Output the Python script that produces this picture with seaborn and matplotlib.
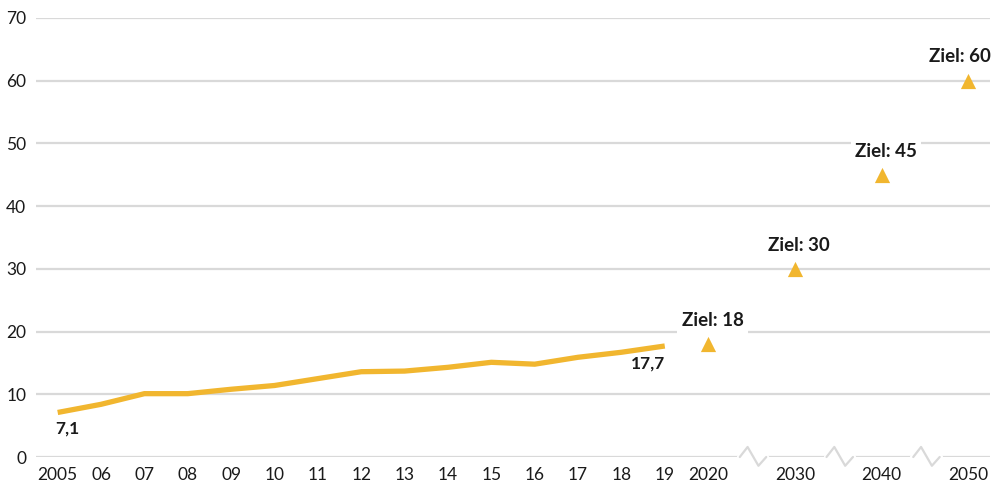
import numpy as np
import pandas as pd
import matplotlib
matplotlib.use("Agg")
import matplotlib.pyplot as plt
import seaborn as sns

# share of renewables, history 2005-2019
hist_years = ["2005", "06", "07", "08", "09", "10", "11", "12", "13", "14", "15", "16", "17", "18", "19"]
hist_values = [7.1, 8.4, 10.1, 10.1, 10.8, 11.4, 12.5, 13.6, 13.7, 14.3, 15.1, 14.8, 15.9, 16.7, 17.7]

# targets
target_years = ["2020", "2030", "2040", "2050"]
target_values = [18, 30, 45, 60]

tick_labels = hist_years + target_years
y_ticks = [0, 10, 20, 30, 40, 50, 60, 70]

YELLOW = "#f1b62f"
GRID = "#d9d9d9"
TEXT = "#1a1a1a"

sns.set_style("white")
plt.rcParams["font.family"] = ["Lato", "DejaVu Sans"]

# positions: history 0..14, 2020 at 15, then a break slot before each later target
hist_x = np.arange(len(hist_years))
target_x = np.array([15, 17, 19, 21])
break_x = [16, 18, 20]

hist_df = pd.DataFrame({"x": hist_x, "value": hist_values})
target_df = pd.DataFrame({"x": target_x, "value": target_values})

fig = plt.figure(figsize=(9.96, 4.86), dpi=100)
ax = fig.add_axes([36 / 996, 1 - 457 / 486, 954 / 996, 439 / 486])

sns.lineplot(data=hist_df, x="x", y="value", color=YELLOW, linewidth=3.8,
             solid_capstyle="butt", ax=ax, zorder=4)
sns.scatterplot(data=target_df, x="x", y="value", color=YELLOW, marker="^",
                s=120, linewidth=0, ax=ax, zorder=4)

ax.set_xlim(-0.5, 21.5)
ax.set_ylim(0, 70)
ax.set_xlabel("")
ax.set_ylabel("")
for s in ax.spines.values():
    s.set_visible(False)

ax.set_yticks(y_ticks)
ax.set_yticklabels([str(v) for v in y_ticks])
ax.yaxis.grid(True, color=GRID, linewidth=1.6)
ax.set_axisbelow(True)
ax.tick_params(axis="y", length=0, pad=7, labelsize=12.5, labelcolor=TEXT)

ax.set_xticks(list(hist_x) + list(target_x))
ax.set_xticklabels(tick_labels)
ax.set_xticks(np.arange(0.5, 21, 1.0), minor=True)
ax.tick_params(axis="x", which="major", length=0, pad=7, labelsize=12.5, labelcolor=TEXT)
ax.tick_params(axis="x", which="minor", length=7, width=1.6, color=GRID)

# axis breaks on the zero line
for bx in break_x:
    ax.plot([bx - 0.29, bx + 0.36], [0, 0], color="white", linewidth=3, zorder=2, clip_on=False)
    ax.plot([bx - 0.27, bx - 0.09, bx + 0.16, bx + 0.34], [0, 1.6, -1.4, 0],
            color=GRID, linewidth=1.6, zorder=3, clip_on=False)

# value labels
ax.text(hist_x[0] - 0.05, hist_values[0] - 2.6, "7,1", ha="left", va="center",
        fontsize=12.5, fontweight="bold", color=TEXT)
ax.text(hist_x[-1], hist_values[-1] - 2.8, "17,7", ha="right", va="center",
        fontsize=12.5, fontweight="bold", color=TEXT)

box = dict(facecolor="white", edgecolor="none", pad=3)
for i, (x, v) in enumerate(zip(target_x, target_values)):
    label = f"Ziel: {v}"
    if i == len(target_x) - 1:
        ax.text(21.53, v + 3.8, label, ha="right", va="center", fontsize=13.5,
                fontweight="bold", color=TEXT, bbox=box, zorder=5)
    else:
        ax.text(x + 0.1, v + 3.7, label, ha="center", va="center", fontsize=13.5,
                fontweight="bold", color=TEXT, bbox=box, zorder=5)

fig.savefig("out.png", dpi=100)
